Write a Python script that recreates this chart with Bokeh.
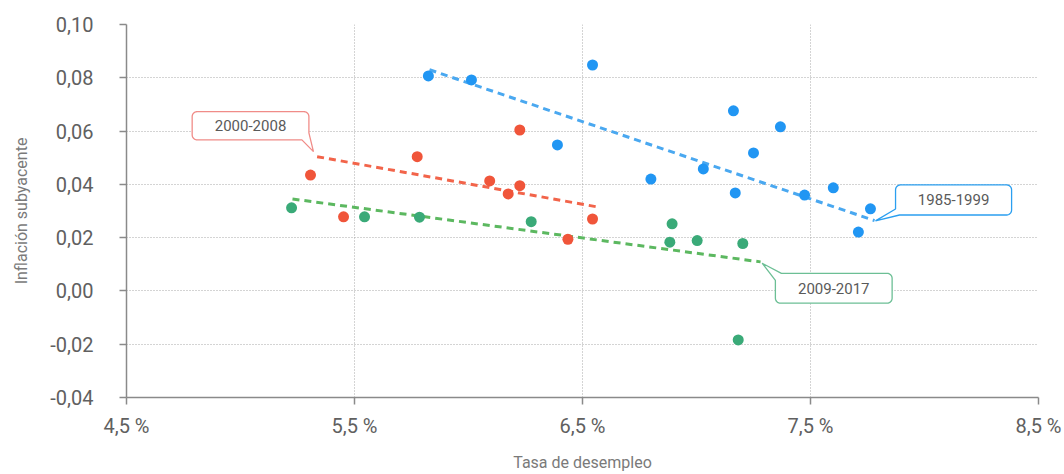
import numpy as np
from bokeh.plotting import figure
from bokeh.models import FixedTicker, CustomJSTickFormatter, Range1d
from bokeh.core.properties import value
from bokeh.embed import file_html
from bokeh.resources import INLINE

# ---------------- data ----------------
u_1985 = [5.824, 6.013, 6.544, 6.390, 6.800, 7.162, 7.368, 7.250, 7.030, 7.170, 7.474, 7.600, 7.763, 7.710]
v_1985 = [0.0807, 0.0792, 0.0848, 0.0548, 0.0420, 0.0676, 0.0616, 0.0518, 0.0458, 0.0368, 0.0360, 0.0387, 0.0308, 0.0221]

u_2000 = [5.307, 5.452, 5.775, 6.225, 6.093, 6.225, 6.174, 6.544, 6.436]
v_2000 = [0.0435, 0.0278, 0.0504, 0.0604, 0.0413, 0.0395, 0.0364, 0.0270, 0.0194]

u_2009 = [5.224, 5.544, 5.785, 6.275, 6.893, 6.883, 7.003, 7.203, 7.183]
v_2009 = [0.0312, 0.0278, 0.0277, 0.0260, 0.0252, 0.0183, 0.0189, 0.0178, -0.0184]

trend_1985_u = [5.829, 7.781]
trend_1985_v = [0.0830, 0.0264]
trend_2000_u = [5.336, 6.561]
trend_2000_v = [0.0504, 0.0316]
trend_2009_u = [5.228, 7.281]
trend_2009_v = [0.0345, 0.0109]

x_ticks = [4.5, 5.5, 6.5, 7.5, 8.5]
y_ticks = [-0.04, -0.02, 0.0, 0.02, 0.04, 0.06, 0.08, 0.10]

labels = ["1985-1999", "2000-2008", "2009-2017"]

# ---------------- styling ----------------
C_BLUE, C_RED, C_GREEN = "#2196f3", "#f0553a", "#3aaa78"
T_BLUE, T_RED, T_GREEN = "#4aa8f0", "#f2644a", "#5cb860"
B_BLUE, B_RED, B_GREEN = "#2b9ff0", "#f08c88", "#6cbf95"
FONT = "Roboto"

XMIN, XMAX, YMIN, YMAX = 4.5, 8.5, -0.04, 0.10
W, H = 1064, 474
MB_L, MB_R, MB_T, MB_B = 126, 26, 24, 77
FW, FH = W - MB_L - MB_R, H - MB_T - MB_B
SX, SY = FW / (XMAX - XMIN), FH / (YMAX - YMIN)

p = figure(width=W, height=H, output_backend="svg", toolbar_location=None,
           x_range=Range1d(XMIN, XMAX), y_range=Range1d(YMIN, YMAX),
           min_border_left=MB_L, min_border_right=MB_R,
           min_border_top=MB_T, min_border_bottom=MB_B)
p.outline_line_color = None
p.background_fill_color = "white"

for ax in (p.xaxis[0], p.yaxis[0]):
    ax.axis_line_color = "#8a8a8a"
    ax.axis_line_width = 1.5
    ax.major_tick_line_color = "#8a8a8a"
    ax.major_tick_line_width = 1.5
    ax.major_tick_out = 7
    ax.major_tick_in = 0
    ax.minor_tick_line_color = None
    ax.major_label_text_font = FONT
    ax.major_label_text_font_size = "20px"
    ax.major_label_text_color = "#606060"
    ax.axis_label_text_font = FONT
    ax.axis_label_text_font_size = "16px"
    ax.axis_label_text_font_style = "normal"
    ax.axis_label_text_color = "#7a7a7a"

p.xaxis.ticker = FixedTicker(ticks=x_ticks)
p.yaxis.ticker = FixedTicker(ticks=y_ticks)
p.xaxis.formatter = CustomJSTickFormatter(code="return tick.toFixed(1).replace('.', ',') + ' %';")
p.yaxis.formatter = CustomJSTickFormatter(code="return tick.toFixed(2).replace('.', ',');")
p.xaxis.axis_label = "Tasa de desempleo"
p.yaxis.axis_label = "Inflación subyacente"
p.xaxis.major_label_standoff = 9
p.xaxis.axis_label_standoff = 12
p.yaxis.major_label_standoff = 26
p.yaxis.axis_label_standoff = 16

for g in (p.xgrid[0], p.ygrid[0]):
    g.grid_line_color = "#a8a8a8"
    g.grid_line_dash = "1 2"
    g.grid_line_width = 1

# trend lines
for tu, tv, col in ((trend_1985_u, trend_1985_v, T_BLUE),
                    (trend_2000_u, trend_2000_v, T_RED),
                    (trend_2009_u, trend_2009_v, T_GREEN)):
    p.line(tu, tv, line_color=col, line_width=3, line_dash="7 5")

# points
for uu, vv, col in ((u_1985, v_1985, C_BLUE), (u_2000, v_2000, C_RED), (u_2009, v_2009, C_GREEN)):
    p.scatter(uu, vv, size=11, fill_color=col, line_color=None)


# callouts
def callout_poly(u0, u1, v0, v1, tu, tv, corner, off_h, off_v, r=5, n=8):
    X0, X1 = (u0 - XMIN) * SX, (u1 - XMIN) * SX
    Y0, Y1 = (v0 - YMIN) * SY, (v1 - YMIN) * SY  # Y0 bottom, Y1 top
    TX, TY = (tu - XMIN) * SX, (tv - YMIN) * SY
    pts = []
    spec = {
        "bl": ((X0 + r, Y0 + r), 180, 270, [(X0, Y0 + off_v), (TX, TY), (X0 + off_h, Y0)]),
        "br": ((X1 - r, Y0 + r), 270, 360, [(X1 - off_h, Y0), (TX, TY), (X1, Y0 + off_v)]),
        "tr": ((X1 - r, Y1 - r), 0, 90, [(X1, Y1 - off_v), (TX, TY), (X1 - off_h, Y1)]),
        "tl": ((X0 + r, Y1 - r), 90, 180, [(X0 + off_h, Y1), (TX, TY), (X0, Y1 - off_v)]),
    }
    for c in ("bl", "br", "tr", "tl"):
        (cx, cy), a0, a1, ptr = spec[c]
        if c == corner:
            pts.extend(ptr)
        else:
            for a in np.linspace(np.radians(a0), np.radians(a1), n):
                pts.append((cx + r * np.cos(a), cy + r * np.sin(a)))
    xs = [XMIN + x / SX for x, _ in pts]
    ys = [YMIN + y / SY for _, y in pts]
    return xs, ys


callouts = [
    # label, box (u0,u1,v0,v1), tip (u,v), corner, off_h, off_v, border
    (labels[1], (4.788, 5.300, 0.0567, 0.0673), (5.320, 0.0523), "br", 7, 7, B_RED),
    (labels[0], (7.873, 8.382, 0.0285, 0.0398), (7.785, 0.0263), "bl", 4, 6, B_BLUE),
    (labels[2], (7.346, 7.858, -0.0046, 0.0066), (7.288, 0.0104), "tl", 6, 7, B_GREEN),
]
for lab, (u0, u1, v0, v1), (tu, tv), corner, oh, ov, col in callouts:
    xs, ys = callout_poly(u0, u1, v0, v1, tu, tv, corner, oh, ov)
    p.patch(xs, ys, fill_color="white", line_color=col, line_width=1.3)
    p.text(x=[(u0 + u1) / 2], y=[(v0 + v1) / 2], text=[lab],
           text_font=value(FONT), text_font_size="15px", text_color="#5a5a5a",
           text_align="center", text_baseline="middle")

open("out.html", "w").write(file_html(p, INLINE))
